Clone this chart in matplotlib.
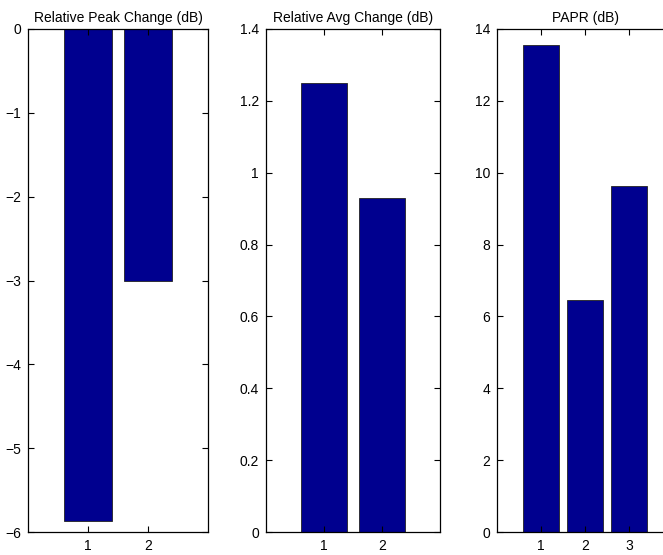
import numpy as np
import matplotlib
matplotlib.use('Agg')
import matplotlib.pyplot as plt

plt.rcParams['font.family'] = ['Liberation Sans', 'DejaVu Sans']

# data
peak_change = [-5.87, -3.0]
avg_change = [1.25, 0.93]
papr = [13.55, 6.45, 9.62]

titles = ['Relative Peak Change (dB)', 'Relative Avg Change (dB)', 'PAPR (dB)']
series = [peak_change, avg_change, papr]
ylims = [(-6, 0), (0, 1.4), (0, 14)]
yticks = [np.arange(-6, 1, 1), np.arange(0, 1.41, 0.2), np.arange(0, 15, 2)]

W, H = 663, 555
# axes boxes in pixels: left, top, right, bottom
boxes = [(28, 29, 208, 532), (266, 29, 440, 532), (497, 29, 673, 532)]

fig = plt.figure(figsize=(W / 100, H / 100), dpi=100)
navy = '#00008F'


def fmt(v):
    if abs(v) < 1e-9:
        return '0'
    s = '%g' % abs(v)
    return ('\u2212' + s) if v < 0 else s


for vals, title, yl, yt, (l, t, r, b) in zip(series, titles, ylims, yticks, boxes):
    ax = fig.add_axes([l / W, (H - b) / H, (r - l) / W, (b - t) / H])
    x = np.arange(1, len(vals) + 1)
    ax.bar(x, vals, width=0.8, color=navy, edgecolor='#222222', linewidth=0.6)
    ax.set_xlim(0, len(vals) + 1)
    ax.set_ylim(*yl)
    ax.set_xticks(x)
    ax.set_yticks(yt)
    ax.set_yticklabels([fmt(v) for v in yt])
    ax.tick_params(direction='in', top=True, right=True, length=4, width=0.8,
                   labelsize=10, pad=5)
    for s in ax.spines.values():
        s.set_linewidth(0.9)
    ax.set_title(title, fontsize=10, pad=5)

fig.savefig('out.png', dpi=100)
